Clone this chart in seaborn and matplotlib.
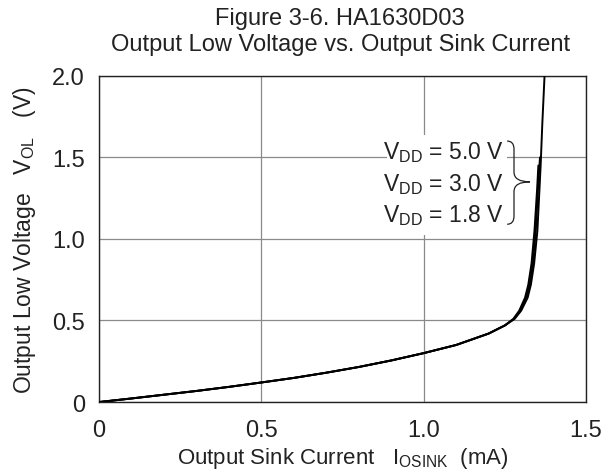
import matplotlib
matplotlib.use("Agg")
import matplotlib.pyplot as plt
from matplotlib.path import Path
from matplotlib.patches import PathPatch
import seaborn as sns
import pandas as pd

# ---- data ----
current_5v0 = [0, 0.1, 0.2, 0.3, 0.4, 0.5, 0.6, 0.7, 0.8, 0.9, 1.0, 1.1, 1.2, 1.25,
               1.28, 1.30, 1.32, 1.33, 1.34, 1.35, 1.36, 1.365, 1.372]
vol_5v0 = [0, 0.022, 0.045, 0.068, 0.093, 0.12, 0.148, 0.18, 0.215, 0.255, 0.30,
           0.35, 0.42, 0.47, 0.51, 0.56, 0.64, 0.72, 0.85, 1.05, 1.45, 1.7, 2.0]
current_3v0 = [0, 0.1, 0.2, 0.3, 0.4, 0.5, 0.6, 0.7, 0.8, 0.9, 1.0, 1.1, 1.2, 1.25,
               1.278, 1.297, 1.316, 1.326, 1.336, 1.345, 1.353, 1.358]
vol_3v0 = [0, 0.022, 0.045, 0.068, 0.093, 0.12, 0.148, 0.18, 0.215, 0.255, 0.30,
           0.35, 0.42, 0.47, 0.51, 0.56, 0.64, 0.72, 0.85, 1.05, 1.35, 1.5]
current_1v8 = [0, 0.1, 0.2, 0.3, 0.4, 0.5, 0.6, 0.7, 0.8, 0.9, 1.0, 1.1, 1.2, 1.25,
               1.276, 1.294, 1.312, 1.322, 1.332, 1.341, 1.349, 1.353]
vol_1v8 = [0, 0.022, 0.045, 0.068, 0.093, 0.12, 0.148, 0.18, 0.215, 0.255, 0.30,
           0.35, 0.42, 0.47, 0.51, 0.56, 0.64, 0.72, 0.85, 1.05, 1.3, 1.45]
series_names = ["5.0 V", "3.0 V", "1.8 V"]
x_ticks = [0, 0.5, 1.0, 1.5]
x_ticklabels = ["0", "0.5", "1.0", "1.5"]
y_ticks = [0, 0.5, 1.0, 1.5, 2.0]
y_ticklabels = ["0", "0.5", "1.0", "1.5", "2.0"]
legend_labels = [r"V$_{\mathregular{DD}}$ = 5.0 V",
                 r"V$_{\mathregular{DD}}$ = 3.0 V",
                 r"V$_{\mathregular{DD}}$ = 1.8 V"]

frames = []
for name, xs, ys in zip(series_names,
                        [current_5v0, current_3v0, current_1v8],
                        [vol_5v0, vol_3v0, vol_1v8]):
    frames.append(pd.DataFrame({"I": xs, "V": ys, "VDD": name}))
df = pd.concat(frames, ignore_index=True)

sns.set_style("white")
plt.rcParams["font.family"] = ["Liberation Sans", "DejaVu Sans"]
plt.rcParams["mathtext.fontset"] = "custom"
plt.rcParams["mathtext.rm"] = "Liberation Sans"
plt.rcParams["mathtext.it"] = "Liberation Sans"

TXT = "#222222"
fig = plt.figure(figsize=(6.03, 4.77), dpi=100)
ax = fig.add_axes([0.164, 0.155, 0.808, 0.684])

sns.lineplot(data=df, x="I", y="V", hue="VDD", palette=["black"] * 3,
             sort=False, estimator=None, linewidth=1.4, legend=False, ax=ax,
             zorder=3)

ax.set_xlim(0, 1.5)
ax.set_ylim(0, 2.0)
ax.set_xticks(x_ticks)
ax.set_xticklabels(x_ticklabels)
ax.set_yticks(y_ticks)
ax.set_yticklabels(y_ticklabels)
ax.tick_params(axis="both", length=0, labelsize=17, colors=TXT)
ax.tick_params(axis="x", pad=12)
ax.tick_params(axis="y", pad=10)
ax.grid(True, color="#8a8a8a", linewidth=0.9)
for s in ax.spines.values():
    s.set_color(TXT)
    s.set_linewidth(1.0)

ax.set_xlabel(r"Output Sink Current   I$_{\mathregular{OSINK}}$  (mA)",
              fontsize=16, color=TXT, labelpad=3)
ax.set_ylabel(r"Output Low Voltage   V$_{\mathregular{OL}}$   (V)",
              fontsize=16.5, color=TXT, labelpad=10)
fig.text(0.564, 0.983, "Figure 3-6. HA1630D03\nOutput Low Voltage vs. Output Sink Current",
         ha="center", va="top", fontsize=17, color=TXT, linespacing=1.2)

# white box behind annotation
ax.add_patch(plt.Rectangle((0.887, 1.025), 1.257 - 0.887, 1.64 - 1.025,
                           transform=ax.transData,
                           facecolor="white", edgecolor="none", zorder=2))
for lbl, yv in zip(legend_labels, [1.497, 1.301, 1.11]):
    ax.text(1.245, yv, lbl, ha="right", va="baseline", fontsize=16.5,
            color=TXT, zorder=4)

# curly brace
x0, x1, xm = 1.257, 1.278, 1.327
yt, yb, ym = 1.60, 1.09, 1.35
codes = [Path.MOVETO, Path.CURVE3, Path.CURVE3, Path.LINETO,
         Path.CURVE3, Path.CURVE3,
         Path.MOVETO, Path.CURVE3, Path.CURVE3, Path.LINETO,
         Path.CURVE3, Path.CURVE3]
verts = [(x0, yt), (x1, yt), (x1, yt - 0.05), (x1, ym + 0.06),
         (x1, ym), (xm, ym),
         (xm, ym), (x1, ym), (x1, ym - 0.06), (x1, yb + 0.05),
         (x1, yb), (x0, yb)]
ax.add_patch(PathPatch(Path(verts, codes), facecolor="none", edgecolor=TXT,
                       linewidth=0.9, zorder=4))

fig.savefig("out.png", dpi=100)
